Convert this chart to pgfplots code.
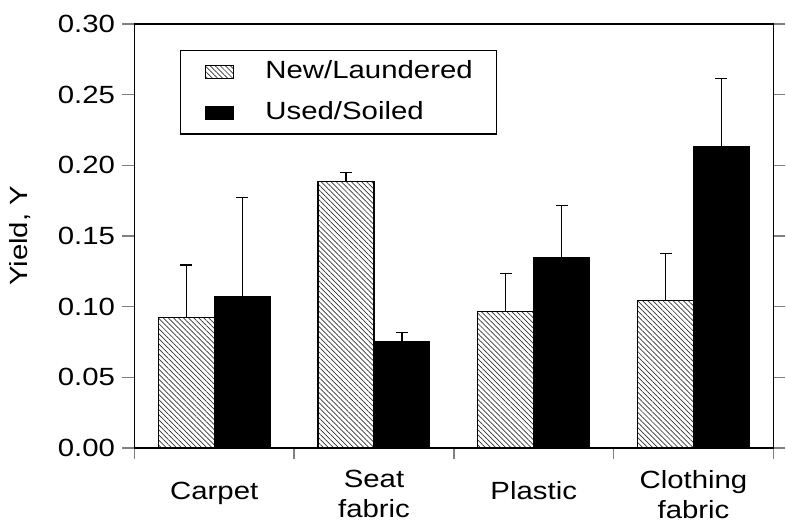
\documentclass[border=0pt]{standalone}
\usepackage{fontspec}
\setmainfont{Liberation Sans}[FakeStretch=1.18]
\usepackage{pgfplots}
\pgfplotsset{compat=1.18}
\usetikzlibrary{patterns.meta}
\newcommand{\bigf}{\fontsize{25}{30}\selectfont}
\begin{document}
\begin{tikzpicture}
\begin{axis}[
  scale only axis,
  width=642pt, height=426pt,
  xmin=-0.5, xmax=3.5,
  ymin=0, ymax=0.30,
  axis line style={line width=1.4pt},
  ybar,
  bar width=0.35,
  xtick={0,1,2,3},
  xticklabels={{\rule{0pt}{29pt}Carpet},{Seat\\fabric},{\rule{0pt}{29pt}Plastic},{Clothing\\fabric}},
  major x tick style={draw=none},
  minor xtick={-0.5,0.5,1.5,2.5,3.5},
  minor x tick style={line width=1.4pt},
  minor tick length=11pt,
  major tick length=12pt,
  xtick pos=bottom,
  ytick pos=both,
  tick align=outside,
  ytick={0,0.05,0.10,0.15,0.20,0.25,0.30},
  major y tick style={line width=1.4pt},
  /pgf/number format/assume math mode=true,
  yticklabel style={font=\bigf, xshift=-4pt, /pgf/number format/.cd, fixed, fixed zerofill, precision=2},
  xticklabel style={font=\bigf, align=center, yshift=-7pt},
  ylabel={Yield, Y},
  ylabel style={font=\bigf, yshift=20pt},
  legend cell align=left,
  legend image code/.code={\draw[#1, line width=1pt] (0pt,-6.5pt) rectangle (28pt,6.5pt);},
  legend style={at={(0.0717,0.939)}, anchor=north west, draw=black, line width=1.3pt,
    font=\bigf, inner xsep=24pt, inner ysep=10pt, row sep=18pt,
    nodes={inner sep=0pt, text height=18pt, text depth=5pt},
    /tikz/every odd column/.style={column sep=32pt}},
]
\addplot[bar shift=-0.175, draw=black, line width=1.2pt,
  pattern={Lines[angle=-45, distance=3.6pt, line width=0.7pt]}, pattern color=black!80,
  error bars/.cd, y dir=plus, y explicit, error mark=-,
  error bar style={line width=1.4pt, black},
  error mark options={rotate=90, line width=1.4pt, mark size=6pt, black}]
  coordinates {
  (0,0.0925) +- (0,0.037)
  (1,0.1887) +- (0,0.0062)
  (2,0.0967) +- (0,0.0265)
  (3,0.1040) +- (0,0.0335)
  };
\addlegendentry{New/Laundered}
\addplot[bar shift=0.175, draw=black, fill=black, line width=1.2pt,
  error bars/.cd, y dir=plus, y explicit, error mark=-,
  error bar style={line width=1.4pt, black},
  error mark options={rotate=90, line width=1.4pt, mark size=6pt, black}]
  coordinates {
  (0,0.1073) +- (0,0.0699)
  (1,0.0749) +- (0,0.0068)
  (2,0.1345) +- (0,0.0368)
  (3,0.2132) +- (0,0.0481)
  };
\addlegendentry{Used/Soiled}
\end{axis}
\path[use as bounding box] (-135pt,-77pt) rectangle (651pt,450pt);
\end{tikzpicture}
\end{document}
